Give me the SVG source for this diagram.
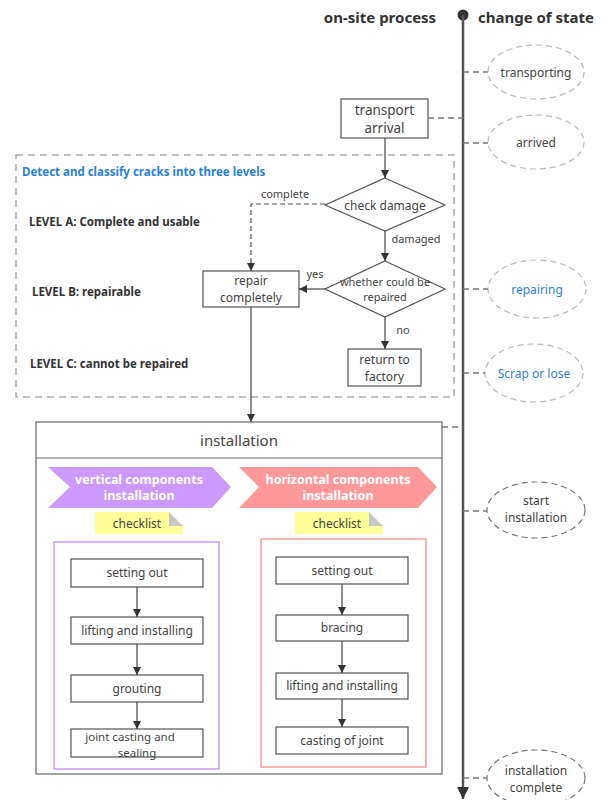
<svg xmlns="http://www.w3.org/2000/svg" width="612" height="800" viewBox="0 0 612 800">
<defs>
<style>
text{font-family:"Noto Sans","Open Sans","Liberation Sans",sans-serif;fill:#444;}
.hd{font-size:15px;font-weight:bold;fill:#333;}
.lvl{font-size:11.5px;font-weight:bold;fill:#333;}
.t{font-size:12px;text-anchor:middle;}
.t11{font-size:11px;text-anchor:middle;}
.box{fill:#fff;stroke:#555;stroke-width:1.2;}
.ell{fill:#fff;stroke:#bbb;stroke-width:1.2;stroke-dasharray:6 4;}
.ell2{fill:#fff;stroke:#777;stroke-width:1.2;stroke-dasharray:6 4;}
.dl{fill:none;stroke:#777;stroke-width:1.5;stroke-dasharray:6 4;}
.ln{fill:none;stroke:#444;stroke-width:1.2;}
.blue{fill:#2f80d8;}
.wt{font-size:12.5px;font-weight:bold;fill:#fff;text-anchor:middle;}
</style>
<marker id="ar" viewBox="0 0 10 10" refX="10" refY="5" markerWidth="8" markerHeight="8" orient="auto" markerUnits="userSpaceOnUse"><path d="M0,0 L10,5 L0,10 z" fill="#333"/></marker>
<marker id="ar2" viewBox="0 0 10 10" refX="10" refY="5" markerWidth="12" markerHeight="12" orient="auto" markerUnits="userSpaceOnUse"><path d="M0,0 L10,5 L0,10 z" fill="#333"/></marker>
</defs>
<rect width="612" height="800" fill="#fff"/>

<g id="headers">
<text class="hd" x="380" y="23" text-anchor="middle">on-site process</text>
<text class="hd" x="536" y="23" text-anchor="middle">change of state</text>
</g>

<g id="timeline">
<circle cx="463" cy="15" r="5.5" fill="#333"/>
<line x1="463" y1="15" x2="463" y2="799" stroke="#555" stroke-width="2.5" marker-end="url(#ar2)"/>
</g>

<g id="crack-frame">
<rect x="16" y="155" width="438" height="242" fill="none" stroke="#aaa" stroke-width="1.5" stroke-dasharray="7 5"/>
<text x="22" y="176" style="font-size:11.5px;font-weight:bold;fill:#2a7fd9">Detect and classify cracks into three levels</text>
<text class="lvl" x="29" y="226">LEVEL A: Complete and usable</text>
<text class="lvl" x="32" y="296">LEVEL B: repairable</text>
<text class="lvl" x="30" y="368">LEVEL C: cannot be repaired</text>
</g>

<g id="state-transporting"><ellipse class="ell" cx="536" cy="72" rx="48" ry="27"/><text class="t" x="536" y="77">transporting</text></g>
<g id="state-arrived"><ellipse class="ell" cx="536" cy="142" rx="48" ry="27"/><text class="t" x="536" y="147">arrived</text></g>
<g id="state-repairing"><ellipse class="ell" cx="537" cy="289" rx="49" ry="29"/><text class="t blue" x="537" y="294">repairing</text></g>
<g id="state-scrap"><ellipse class="ell" cx="534" cy="373" rx="49" ry="29"/><text class="t blue" x="534" y="378">Scrap or lose</text></g>
<g id="state-start"><ellipse class="ell2" cx="536" cy="510" rx="49" ry="28"/><text class="t" x="536" y="505">start</text><text class="t" x="536" y="522">installation</text></g>
<g id="state-complete"><ellipse class="ell2" cx="536" cy="778" rx="49" ry="28"/><text class="t" x="536" y="775">installation</text><text class="t" x="536" y="792">complete</text></g>

<g id="transport-arrival"><rect class="box" x="341" y="99" width="87" height="39"/><text x="384.5" y="115" style="font-size:13.5px;text-anchor:middle">transport</text><text x="384.5" y="133" style="font-size:13.5px;text-anchor:middle">arrival</text></g>
<g id="check-damage"><polygon class="box" points="385,178 445,205 385,231 325,205"/><text class="t" x="385" y="210">check damage</text></g>
<g id="whether-repaired"><polygon class="box" points="385,261 445,289 385,317 325,289"/><text class="t11" x="385" y="286">whether could be</text><text class="t11" x="385" y="301">repaired</text></g>
<g id="repair-completely"><rect class="box" x="203" y="271" width="96" height="36"/><text class="t" x="251" y="285">repair</text><text class="t" x="251" y="302">completely</text></g>
<g id="return-factory"><rect class="box" x="348" y="349" width="73" height="37"/><text class="t" x="384.5" y="364">return to</text><text class="t" x="384.5" y="381">factory</text></g>

<g id="installation">
<rect x="36" y="422" width="406" height="352" fill="#fff" stroke="#666" stroke-width="1.2"/>
<line x1="36" y1="458" x2="442" y2="458" stroke="#666" stroke-width="1.2"/>
<text x="239" y="446" style="font-size:15px;text-anchor:middle">installation</text>
</g>

<g id="vertical-header">
<polygon points="48,467 212,467 231,487 212,508 48,508 70,487" fill="#cc99ff"/>
<text class="wt" x="139" y="484">vertical components</text>
<text class="wt" x="139" y="500">installation</text>
</g>
<g id="horizontal-header">
<polygon points="239,467 418,467 437,487 418,508 239,508 259,487" fill="#ff9999"/>
<text class="wt" x="338" y="484">horizontal components</text>
<text class="wt" x="338" y="500">installation</text>
</g>

<g id="checklist-v">
<polygon points="95,512 169,512 183,526 183,534 95,534" fill="#ffff99"/>
<polygon points="169,512 183,526 169,526" fill="#c8c8c8"/>
<text class="t" x="137" y="528">checklist</text>
</g>
<g id="checklist-h">
<polygon points="295,512 369,512 383,526 383,534 295,534" fill="#ffff99"/>
<polygon points="369,512 383,526 369,526" fill="#c8c8c8"/>
<text class="t" x="337" y="528">checklist</text>
</g>

<g id="vertical-frame"><rect x="54" y="542" width="165" height="227" fill="none" stroke="#cc99ff" stroke-width="1.5"/></g>
<g id="horizontal-frame"><rect x="261" y="539" width="165" height="228" fill="none" stroke="#ff9999" stroke-width="1.5"/></g>

<g id="v-setting-out"><rect class="box" x="71" y="559" width="132" height="28"/><text class="t" x="137" y="577">setting out</text></g>
<g id="v-lifting"><rect class="box" x="71" y="617" width="132" height="27"/><text class="t" x="137" y="635">lifting and installing</text></g>
<g id="v-grouting"><rect class="box" x="71" y="675" width="132" height="27"/><text class="t" x="137" y="693">grouting</text></g>
<g id="v-joint"><rect class="box" x="71" y="729" width="132" height="28"/><text class="t" x="130" y="741" style="font-size:11.5px">joint casting and</text><text class="t" x="137" y="757" style="font-size:11.5px">sealing</text></g>

<g id="h-setting-out"><rect class="box" x="276" y="557" width="132" height="27"/><text class="t" x="342" y="575">setting out</text></g>
<g id="h-bracing"><rect class="box" x="276" y="615" width="132" height="26"/><text class="t" x="342" y="632">bracing</text></g>
<g id="h-lifting"><rect class="box" x="276" y="673" width="132" height="26"/><text class="t" x="342" y="690">lifting and installing</text></g>
<g id="h-casting"><rect class="box" x="276" y="727" width="132" height="27"/><text class="t" x="342" y="745">casting of joint</text></g>

<g id="connectors">
<line class="dl" x1="428" y1="118" x2="463" y2="118"/>
<line class="dl" x1="463" y1="72" x2="488" y2="72"/>
<line class="dl" x1="463" y1="143" x2="488" y2="143"/>
<line class="dl" x1="463" y1="289" x2="488" y2="289"/>
<line class="dl" x1="463" y1="373" x2="485" y2="373"/>
<line class="dl" x1="442" y1="427" x2="463" y2="427"/>
<line class="dl" x1="463" y1="511" x2="487" y2="511"/>
<line class="dl" x1="463" y1="778" x2="487" y2="778"/>
<line class="ln" x1="385" y1="138" x2="385" y2="178" marker-end="url(#ar)"/>
<line class="ln" x1="385" y1="231" x2="385" y2="261" marker-end="url(#ar)"/>
<line class="ln" x1="325" y1="289" x2="299" y2="289" marker-end="url(#ar)"/>
<line class="ln" x1="385" y1="317" x2="385" y2="349" marker-end="url(#ar)"/>
<polyline fill="none" stroke="#555" stroke-width="1.2" stroke-dasharray="5 3" points="325,204 251,204 251,271" marker-end="url(#ar)"/>
<line class="ln" x1="251" y1="307" x2="251" y2="422" marker-end="url(#ar)"/>
<line class="ln" x1="137" y1="587" x2="137" y2="617" marker-end="url(#ar)" stroke="#111"/>
<line class="ln" x1="137" y1="644" x2="137" y2="675" marker-end="url(#ar)" stroke="#111"/>
<line class="ln" x1="137" y1="702" x2="137" y2="729" marker-end="url(#ar)" stroke="#111"/>
<line class="ln" x1="342" y1="584" x2="342" y2="615" marker-end="url(#ar)"/>
<line class="ln" x1="342" y1="641" x2="342" y2="673" marker-end="url(#ar)"/>
<line class="ln" x1="342" y1="699" x2="342" y2="727" marker-end="url(#ar)"/>
<text class="t11" x="285" y="198">complete</text>
<text class="t11" x="416" y="243">damaged</text>
<text class="t11" x="315" y="278">yes</text>
<text class="t11" x="403" y="334">no</text>
</g>
</svg>
